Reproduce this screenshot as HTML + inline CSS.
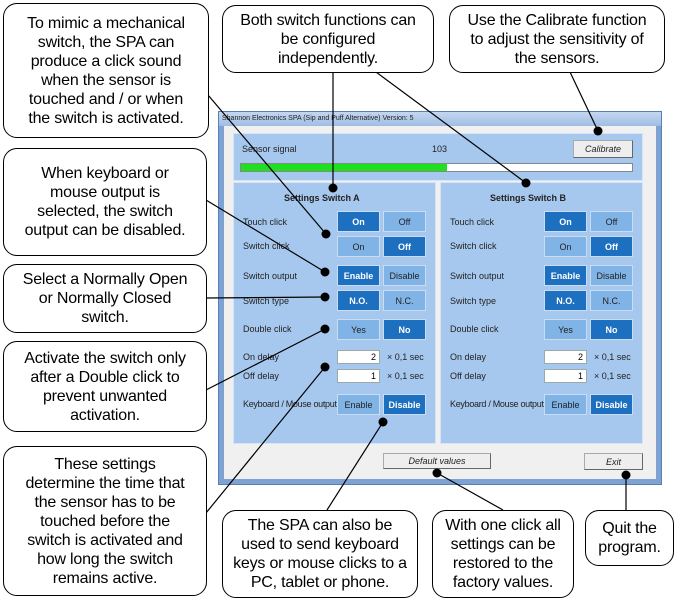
<!DOCTYPE html>
<html><head><meta charset="utf-8"><style>
*{margin:0;padding:0;box-sizing:border-box}
body{width:680px;height:602px;background:#fff;position:relative;overflow:hidden;font-family:"Liberation Sans",Arial,sans-serif}
.c{position:absolute;border:1px solid #000;border-radius:14px;background:#fff;display:flex;align-items:center;justify-content:center;text-align:center;font-size:16px;line-height:19px;color:#000;padding:2px 2px;white-space:nowrap;letter-spacing:-0.2px}
.a{position:absolute}
.win{left:218px;top:111px;width:444px;height:374px;background:#7ea3d3;border:1px solid #5a7fb5}
.title{left:219px;top:112px;width:442px;height:14px;background:linear-gradient(#c4d7ef,#9fbde4);font-size:7px;line-height:14px;padding-left:3px;color:#222}
.inner{left:224px;top:126px;width:432px;height:353px;background:#f0f0f0}
.pan{background:#a7c8ee;border:1px solid #d6e4f5}
.lbl{position:absolute;font-size:9px;color:#222}
.b{position:absolute;width:43px;height:21px;font-size:9px;display:flex;align-items:center;justify-content:center;border:1px solid #c9dcf2}
.on{background:#1d6fc0;color:#fff;font-weight:bold}
.off{background:#80b3e6;color:#222}
.in{position:absolute;width:43px;height:14px;background:#fff;border:1px solid #9aa;font-size:9px;text-align:right;padding-right:3px;line-height:12px}
.gb{position:absolute;background:#eee;border:1px solid #aaa;border-right-color:#666;border-bottom-color:#666;font-size:9px;font-style:italic;display:flex;align-items:center;justify-content:center;color:#222}
</style></head><body>
<div class="a win"></div>
<div class="a title">Shannon Electronics SPA (Sip and Puff Alternative) Version: 5</div>
<div class="a inner"></div>
<div class="a pan" style="left:233px;top:133px;width:410px;height:48px"></div>
<div class="lbl" style="left:242px;top:144px">Sensor signal</div>
<div class="lbl" style="left:432px;top:144px">103</div>
<div class="gb" style="left:573px;top:140px;width:60px;height:18px">Calibrate</div>
<div class="a" style="left:240px;top:163px;width:393px;height:9px;background:#fff;border:1px solid #888"></div>
<div class="a" style="left:241px;top:164px;width:206px;height:7px;background:#1fe01f"></div>

<div class="a pan" style="left:233px;top:182px;width:203px;height:262px"></div>
<div class="a pan" style="left:440px;top:182px;width:203px;height:262px"></div>

<div class="lbl" style="left:284px;top:193px;font-weight:bold">Settings Switch A</div>
<div class="lbl" style="left:490px;top:193px;font-weight:bold">Settings Switch B</div>

<!-- A -->
<div class="lbl" style="left:243px;top:217px">Touch click</div>
<div class="lbl" style="left:243px;top:241px">Switch click</div>
<div class="lbl" style="left:243px;top:271px">Switch output</div>
<div class="lbl" style="left:243px;top:296px">Switch type</div>
<div class="lbl" style="left:243px;top:324px">Double click</div>
<div class="lbl" style="left:243px;top:352px">On delay</div>
<div class="lbl" style="left:243px;top:371px">Off delay</div>
<div class="lbl" style="left:243px;top:399px;letter-spacing:-0.3px">Keyboard / Mouse output</div>
<div class="b on" style="left:337px;top:211px">On</div><div class="b off" style="left:383px;top:211px">Off</div>
<div class="b off" style="left:337px;top:236px">On</div><div class="b on" style="left:383px;top:236px">Off</div>
<div class="b on" style="left:337px;top:265px">Enable</div><div class="b off" style="left:383px;top:265px">Disable</div>
<div class="b on" style="left:337px;top:290px">N.O.</div><div class="b off" style="left:383px;top:290px">N.C.</div>
<div class="b off" style="left:337px;top:319px">Yes</div><div class="b on" style="left:383px;top:319px">No</div>
<div class="in" style="left:337px;top:350px">2</div><div class="lbl" style="left:387px;top:352px">× 0,1 sec</div>
<div class="in" style="left:337px;top:369px">1</div><div class="lbl" style="left:387px;top:371px">× 0,1 sec</div>
<div class="b off" style="left:337px;top:394px">Enable</div><div class="b on" style="left:383px;top:394px">Disable</div>

<!-- B -->
<div class="lbl" style="left:450px;top:217px">Touch click</div>
<div class="lbl" style="left:450px;top:241px">Switch click</div>
<div class="lbl" style="left:450px;top:271px">Switch output</div>
<div class="lbl" style="left:450px;top:296px">Switch type</div>
<div class="lbl" style="left:450px;top:324px">Double click</div>
<div class="lbl" style="left:450px;top:352px">On delay</div>
<div class="lbl" style="left:450px;top:371px">Off delay</div>
<div class="lbl" style="left:450px;top:399px;letter-spacing:-0.3px">Keyboard / Mouse output</div>
<div class="b on" style="left:544px;top:211px">On</div><div class="b off" style="left:590px;top:211px">Off</div>
<div class="b off" style="left:544px;top:236px">On</div><div class="b on" style="left:590px;top:236px">Off</div>
<div class="b on" style="left:544px;top:265px">Enable</div><div class="b off" style="left:590px;top:265px">Disable</div>
<div class="b on" style="left:544px;top:290px">N.O.</div><div class="b off" style="left:590px;top:290px">N.C.</div>
<div class="b off" style="left:544px;top:319px">Yes</div><div class="b on" style="left:590px;top:319px">No</div>
<div class="in" style="left:544px;top:350px">2</div><div class="lbl" style="left:594px;top:352px">× 0,1 sec</div>
<div class="in" style="left:544px;top:369px">1</div><div class="lbl" style="left:594px;top:371px">× 0,1 sec</div>
<div class="b off" style="left:544px;top:394px">Enable</div><div class="b on" style="left:590px;top:394px">Disable</div>

<div class="gb" style="left:383px;top:453px;width:108px;height:16px">Default values</div>
<div class="gb" style="left:584px;top:453px;width:59px;height:17px">Exit</div>

<svg class="a" style="left:0;top:0" width="680" height="602">
<g stroke="#000" stroke-width="1.2" fill="none">
<line x1="208" y1="95" x2="326" y2="234"/>
<line x1="333" y1="72" x2="333" y2="188"/>
<line x1="376" y1="72" x2="526" y2="183"/>
<line x1="570" y1="72" x2="598" y2="131"/>
<line x1="206" y1="200" x2="325" y2="272"/>
<line x1="206" y1="298" x2="325" y2="297"/>
<line x1="206" y1="390" x2="325" y2="329"/>
<line x1="206" y1="513" x2="325" y2="367"/>
<line x1="327" y1="510" x2="383" y2="422"/>
<line x1="503" y1="510" x2="437" y2="473"/>
<line x1="626" y1="510" x2="626" y2="475"/>
</g>
<g fill="#000">
<circle cx="326" cy="234" r="4.5"/><circle cx="333" cy="188" r="4.5"/><circle cx="526" cy="183" r="4.5"/>
<circle cx="598" cy="131" r="4.5"/><circle cx="325" cy="272" r="4.5"/><circle cx="325" cy="297" r="4.5"/>
<circle cx="325" cy="329" r="4.5"/><circle cx="325" cy="367" r="4.5"/><circle cx="383" cy="422" r="4.5"/>
<circle cx="437" cy="473" r="4.5"/><circle cx="626" cy="475" r="4.5"/>
</g>
</svg>

<div class="c" style="left:3px;top:3px;width:206px;height:135px">To mimic a mechanical<br>switch, the SPA can<br>produce a click sound<br>when the sensor is<br>touched and / or when<br>the switch is activated.</div>
<div class="c" style="left:222px;top:5px;width:212px;height:68px">Both switch functions can<br>be configured<br>independently.</div>
<div class="c" style="left:449px;top:5px;width:216px;height:68px">Use the Calibrate function<br>to adjust the sensitivity of<br>the sensors.</div>
<div class="c" style="left:3px;top:148px;width:204px;height:108px">When keyboard or<br>mouse output is<br>selected, the switch<br>output can be disabled.</div>
<div class="c" style="left:3px;top:264px;width:204px;height:69px">Select a Normally Open<br>or Normally Closed<br>switch.</div>
<div class="c" style="left:3px;top:341px;width:204px;height:91px">Activate the switch only<br>after a Double click to<br>prevent unwanted<br>activation.</div>
<div class="c" style="left:3px;top:446px;width:204px;height:150px">These settings<br>determine the time that<br>the sensor has to be<br>touched before the<br>switch is activated and<br>how long the switch<br>remains active.</div>
<div class="c" style="left:222px;top:510px;width:196px;height:88px">The SPA can also be<br>used to send keyboard<br>keys or mouse clicks to a<br>PC, tablet or phone.</div>
<div class="c" style="left:432px;top:510px;width:142px;height:88px">With one click all<br>settings can be<br>restored to the<br>factory values.</div>
<div class="c" style="left:585px;top:510px;width:89px;height:56px">Quit the<br>program.</div>
</body></html>
